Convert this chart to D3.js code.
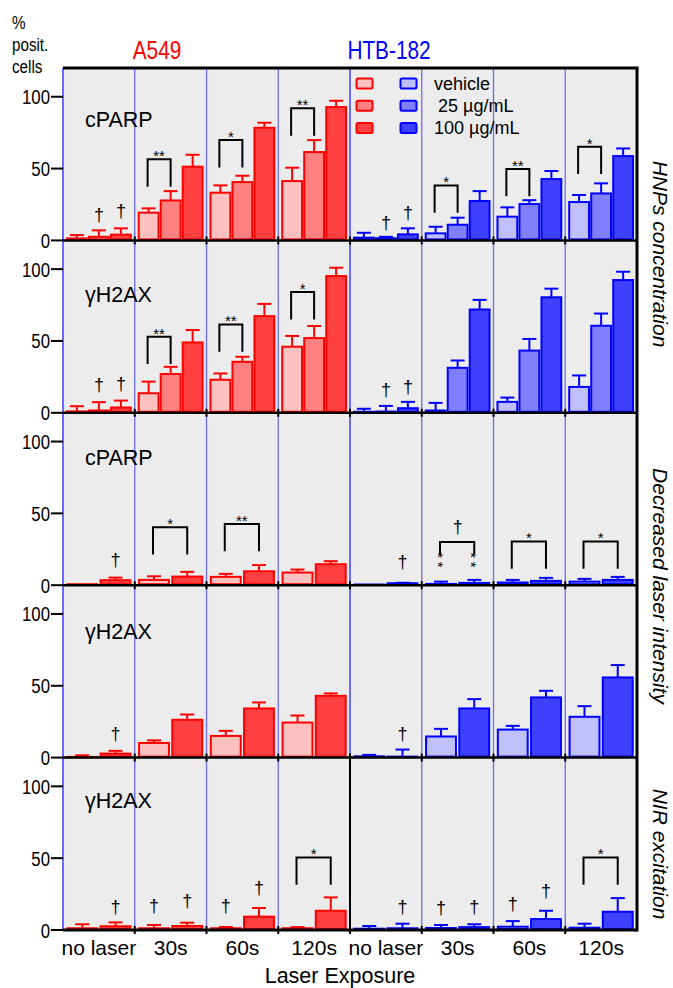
<!DOCTYPE html>
<meta charset="utf-8">
<title>% positive cells</title>
<style>
body { margin:0; background:#fff; }
text { font-family: Arial, "Liberation Sans", Helvetica, sans-serif; fill:#000; }
</style>
<body>
<svg id="chart" width="673" height="988"></svg>
<script src="https://d3js.org/d3.v7.min.js"></script>
<script>
// ---- data ----
var groups = ["no laser", "30s", "60s", "120s"];
var cellLines = ["A549", "HTB-182"];
var seriesNames = ["vehicle", " 25 \u00b5g/mL", "100 \u00b5g/mL"];
var rowMarkers = ["cPARP", "\u03b3H2AX", "cPARP", "\u03b3H2AX", "\u03b3H2AX"];
var sideTitles = ["HNPs concentration", "Decreased laser intensity", "NIR excitation"];
var yTicks = [0, 50, 100];

// HNPs concentration, cPARP
var hnpCparpA549 = [[1.4, 2.5, 4.0], [19.3, 27.8, 51.3], [33.2, 40.6, 78.4], [41.3, 61.5, 92.8]];
var hnpCparpA549Sd = [[2.3, 4.5, 4.4], [3.0, 6.5, 8.3], [5.1, 4.4, 3.5], [9.3, 8.3, 4.4]];
var hnpCparpHtb = [[1.9, 1.5, 4.2], [4.9, 10.9, 27.4], [16.5, 25.3, 42.7], [26.7, 32.7, 58.7]];
var hnpCparpHtbSd = [[3.4, 1.0, 4.2], [4.6, 4.9, 6.9], [6.5, 2.7, 5.6], [4.9, 7.0, 5.3]];
// HNPs concentration, gH2AX
var hnpH2axA549 = [[1.0, 1.6, 3.7], [13.6, 27.0, 49.0], [23.0, 35.5, 67.3], [46.0, 52.0, 95.2]];
var hnpH2axA549Sd = [[3.6, 5.8, 4.8], [8.1, 5.0, 8.6], [4.4, 3.5, 8.5], [7.5, 8.4, 5.8]];
var hnpH2axHtb = [[0.7, 0.9, 3.2], [1.6, 31.3, 71.9], [7.6, 43.3, 80.4], [18.0, 60.6, 92.4]];
var hnpH2axHtbSd = [[2.1, 3.9, 4.4], [5.3, 5.1, 6.7], [3.0, 8.1, 6.0], [8.0, 8.5, 5.8]];
// decreased laser intensity (vehicle, 100 ug/mL)
var lowCparpA549 = [[0.7, 3.5], [3.7, 6.0], [5.8, 9.7], [8.8, 14.6]];
var lowCparpA549Sd = [[0, 1.8], [2.5, 3.3], [2.1, 4.3], [2.1, 2.1]];
var lowCparpHtb = [[0.5, 1.4], [0.9, 1.6], [1.9, 3.0], [2.5, 3.7]];
var lowCparpHtbSd = [[0, 0.3], [1.6, 2.1], [1.8, 2.1], [1.9, 2.1]];
var lowH2axA549 = [[0.5, 2.8], [10.2, 26.3], [15.1, 34.2], [24.4, 43.0]];
var lowH2axA549Sd = [[1.1, 1.9], [1.8, 3.7], [3.5, 4.2], [4.9, 1.7]];
var lowH2axHtb = [[0.9, 0.7], [14.7, 34.2], [19.5, 41.9], [28.4, 55.8]];
var lowH2axHtbSd = [[1.0, 4.9], [5.3, 6.5], [2.6, 4.6], [7.4, 8.6]];
// NIR excitation
var nirH2axA549 = [[1.2, 2.6], [1.2, 2.8], [1.2, 9.3], [1.2, 13.4]];
var nirH2axA549Sd = [[2.8, 2.7], [2.3, 2.3], [0.9, 6.0], [0.8, 9.3]];
var nirH2axHtb = [[0.9, 1.2], [1.4, 2.0], [2.3, 7.6], [1.6, 12.7]];
var nirH2axHtbSd = [[1.9, 3.2], [2.1, 2.0], [3.9, 5.8], [2.8, 9.5]];

// significance brackets: row, cell line, group, bracket top, label, leg length
var brackets = [
  [0, 0, 1, 56.4, "**"], [0, 0, 2, 69.8, "*"], [0, 0, 3, 91.9, "**"],
  [0, 1, 1, 38.3, "*"], [0, 1, 2, 49.7, "**"], [0, 1, 3, 65.2, "*"],
  [1, 0, 1, 53.0, "**"], [1, 0, 2, 61.5, "**"], [1, 0, 3, 84.0, "*"],
  [2, 0, 1, 40.3, "*"], [2, 0, 2, 42.6, "**"],
  [2, 1, 1, 30.0, "", 8.5], [2, 1, 2, 30.5, "*"], [2, 1, 3, 30.5, "*"],
  [4, 0, 3, 50.5, "*"], [4, 1, 3, 50.5, "*"]
];
// daggers: row, cell line, group, bar, value
var daggers = [
  [0, 0, 0, 1, 17.6], [0, 0, 0, 2, 20.0], [0, 1, 0, 1, 11.8], [0, 1, 0, 2, 18.8],
  [1, 0, 0, 1, 19.0], [1, 0, 0, 2, 20.0], [1, 1, 0, 1, 15.7], [1, 1, 0, 2, 17.3],
  [2, 0, 0, 1, 17.4], [2, 1, 0, 1, 16.0], [2, 1, 1, 0.5, 40.5],
  [3, 0, 0, 1, 16.3], [3, 1, 0, 1, 16.3],
  [4, 0, 0, 1, 15.6], [4, 0, 1, 0, 16.4], [4, 0, 1, 1, 20.0], [4, 0, 2, 0, 16.4], [4, 0, 2, 1, 29.0],
  [4, 1, 0, 1, 15.6], [4, 1, 1, 0, 15.1], [4, 1, 1, 1, 15.6], [4, 1, 2, 0, 17.5], [4, 1, 2, 1, 26.6]
];
// stacked "**" under bracket legs: row, cell line, group, bar, centre value
var legStars = [[2, 1, 1, 0, 16.4], [2, 1, 1, 1, 16.4]];

var rows = [
  {marker: 0, series: [0, 1, 2], mean: [hnpCparpA549, hnpCparpHtb], sd: [hnpCparpA549Sd, hnpCparpHtbSd], markerAt: 78.7},
  {marker: 1, series: [0, 1, 2], mean: [hnpH2axA549, hnpH2axHtb], sd: [hnpH2axA549Sd, hnpH2axHtbSd], markerAt: 77},
  {marker: 2, series: [0, 2], mean: [lowCparpA549, lowCparpHtb], sd: [lowCparpA549Sd, lowCparpHtbSd], markerAt: 84},
  {marker: 3, series: [0, 2], mean: [lowH2axA549, lowH2axHtb], sd: [lowH2axA549Sd, lowH2axHtbSd], markerAt: 82.6},
  {marker: 4, series: [0, 2], mean: [nirH2axA549, nirH2axHtb], sd: [nirH2axA549Sd, nirH2axHtbSd], markerAt: 84.7}
];

// ---- layout ----
var svg = d3.select("#chart");
var plotL = 63, plotR = 637, plotT = 68, plotB = 930;
var rowH = (plotB - plotT) / rows.length;
var strokes = ["#ff0000", "#0000ff"];
var fills = [["#ffc0c0", "#ff8080", "#ff4040"], ["#c0c0ff", "#8080ff", "#4040ff"]];
var divider = "#6b6bff";

var x = d3.scaleBand().domain(d3.range(8)).range([plotL, plotR]);
var inner3 = d3.scaleBand().domain([0, 1, 2]).range([0, x.bandwidth()]).paddingInner(0.1).paddingOuter(0.18);
var inner2 = d3.scaleBand().domain([0, 1]).range([0, x.bandwidth()]).paddingInner(0.1).paddingOuter(0.13);
function yFor(r) {
  return d3.scaleLinear().domain([0, 120]).range([plotT + (r + 1) * rowH, plotT + r * rowH]);
}
function innerFor(r) { return rows[r].series.length == 3 ? inner3 : inner2; }
function barCenter(r, c, g, b) {
  var inn = innerFor(r);
  var x0 = x(c * 4 + g);
  if (b % 1) return x0 + (inn(0) + inn(1) + inn.bandwidth()) / 2;
  return x0 + inn(b) + inn.bandwidth() / 2;
}
function txt(sel, str, tx, ty, size, sx) {
  return sel.append("text")
    .attr("transform", "translate(" + tx + "," + ty + ") scale(" + (sx || 1) + ",1)")
    .attr("font-size", size)
    .text(str);
}

// panel background
svg.append("rect").attr("x", plotL).attr("y", plotT).attr("width", plotR - plotL).attr("height", plotB - plotT)
  .attr("fill", "#ececec");

// group dividers
svg.append("g").selectAll("line").data(d3.range(1, 8)).enter().append("line")
  .attr("x1", function(d) { return x(d); }).attr("x2", function(d) { return x(d); })
  .attr("y1", plotT).attr("y2", function(d) { return d == 4 ? plotT + 4 * rowH : plotB; })
  .attr("stroke", divider).attr("stroke-width", function(d) { return d == 4 ? 2 : 1.3; });
svg.append("line").attr("x1", x(4)).attr("x2", x(4)).attr("y1", plotT + 4 * rowH).attr("y2", plotB)
  .attr("stroke", "#000").attr("stroke-width", 2);
svg.append("line").attr("x1", plotL).attr("x2", plotL).attr("y1", plotT).attr("y2", plotB)
  .attr("stroke", divider).attr("stroke-width", 2);

rows.forEach(function(row, r) {
  var y = yFor(r);
  var inn = innerFor(r);
  var g = svg.append("g");
  [0, 1].forEach(function(c) {
    groups.forEach(function(gn, gi) {
      row.series.forEach(function(s, b) {
        var m = row.mean[c][gi][b], sd = row.sd[c][gi][b];
        var bx = x(c * 4 + gi) + inn(b);
        var cx = bx + inn.bandwidth() / 2;
        if (sd > 0) {
          g.append("line").attr("x1", cx).attr("x2", cx).attr("y1", y(m)).attr("y2", y(m + sd))
            .attr("stroke", strokes[c]).attr("stroke-width", 2);
          g.append("line").attr("x1", cx - 7).attr("x2", cx + 7).attr("y1", y(m + sd)).attr("y2", y(m + sd))
            .attr("stroke", strokes[c]).attr("stroke-width", 2);
        }
        g.append("rect").attr("x", bx).attr("y", y(m)).attr("width", inn.bandwidth())
          .attr("height", Math.max(y(0) - y(m) - 1, 0.5))
          .attr("fill", fills[c][s]).attr("stroke", strokes[c]).attr("stroke-width", 2);
      });
    });
  });
  // marker label
  txt(svg, rowMarkers[row.marker], 85, y(row.markerAt), 21.5, 1);
  // y axis
  yTicks.forEach(function(t) {
    svg.append("line").attr("x1", 51).attr("x2", plotL).attr("y1", y(t)).attr("y2", y(t))
      .attr("stroke", "#000").attr("stroke-width", 2);
    txt(svg, t, 50, y(t) + 7.5, 21, 0.8).attr("text-anchor", "end");
  });
});

// brackets
brackets.forEach(function(d) {
  var y = yFor(d[0]);
  var x0 = barCenter(d[0], d[1], d[2], 0) - 1, x1 = barCenter(d[0], d[1], d[2], 1);
  var leg = d[5] || 19;
  svg.append("path")
    .attr("d", "M" + x0 + "," + y(d[3] - leg) + "V" + y(d[3]) + "H" + x1 + "V" + y(d[3] - leg))
    .attr("fill", "none").attr("stroke", "#000").attr("stroke-width", 2);
  if (d[4]) txt(svg, d[4], (x0 + x1) / 2, y(d[3]) + 2, 15, 1).attr("text-anchor", "middle");
});
daggers.forEach(function(d) {
  var y = yFor(d[0]);
  txt(svg, "\u2020", barCenter(d[0], d[1], d[2], d[3]), y(d[4]) + 5.5, 18, 1).attr("text-anchor", "middle");
});
legStars.forEach(function(d) {
  var y = yFor(d[0]);
  var cx = barCenter(d[0], d[1], d[2], d[3]);
  svg.append("text")
    .attr("transform", "translate(" + (cx - 7.8) + "," + y(d[4]) + ") rotate(90)")
    .attr("text-anchor", "middle").attr("font-size", 15).attr("letter-spacing", 3.5)
    .text("**");
});

// row separators and frame
d3.range(1, rows.length + 1).forEach(function(r) {
  var yy = plotT + r * rowH;
  svg.append("line").attr("x1", plotL).attr("x2", plotR).attr("y1", yy).attr("y2", yy)
    .attr("stroke", "#000").attr("stroke-width", r == rows.length ? 3 : 2.5);
  d3.range(1, 8).forEach(function(k) {
    svg.append("line").attr("x1", x(k)).attr("x2", x(k)).attr("y1", yy - 4).attr("y2", yy + 4)
      .attr("stroke", "#000").attr("stroke-width", 2);
  });
});
svg.append("line").attr("x1", plotL).attr("x2", plotR + 1.5).attr("y1", plotT).attr("y2", plotT)
  .attr("stroke", "#000").attr("stroke-width", 3);
svg.append("line").attr("x1", plotR).attr("x2", plotR).attr("y1", plotT).attr("y2", plotB + 1.5)
  .attr("stroke", "#000").attr("stroke-width", 3);

// legend
var lg = svg.append("g");
seriesNames.forEach(function(s, i) {
  var ly = 83.5 + i * 22.2;
  [0, 1].forEach(function(c) {
    lg.append("rect").attr("x", x(4) + 6.5 + c * 44).attr("y", ly - 5).attr("width", 16).attr("height", 10)
      .attr("rx", 1.5).attr("fill", fills[c][i]).attr("stroke", strokes[c]).attr("stroke-width", 2);
  });
  txt(lg, s, x(4) + 84 + (i == 1 ? 4 : 0), ly + 6, 18, 1);
});

// titles
txt(svg, cellLines[0], 157, 59, 26, 0.8).attr("text-anchor", "middle").style("fill", "#ff0000");
txt(svg, cellLines[1], 389, 59, 26, 0.8).attr("text-anchor", "middle").style("fill", "#0000ff");
txt(svg, "%", 12, 29, 19, 0.8);
txt(svg, "posit.", 12, 51, 19, 0.8);
txt(svg, "cells", 12, 73, 19, 0.8);

groups.concat(groups).forEach(function(gn, i) {
  txt(svg, gn, x(i) + x.bandwidth() / 2, 955, 21, 1).attr("text-anchor", "middle");
});
txt(svg, "Laser Exposure", 340, 983, 21.5, 1).attr("text-anchor", "middle");

[[sideTitles[0], 254], [sideTitles[1], 586], [sideTitles[2], 854]].forEach(function(d) {
  svg.append("text")
    .attr("transform", "translate(653," + d[1] + ") rotate(90)")
    .attr("text-anchor", "middle").attr("font-size", 21).attr("font-style", "italic")
    .text(d[0]);
});
</script>
</body>
